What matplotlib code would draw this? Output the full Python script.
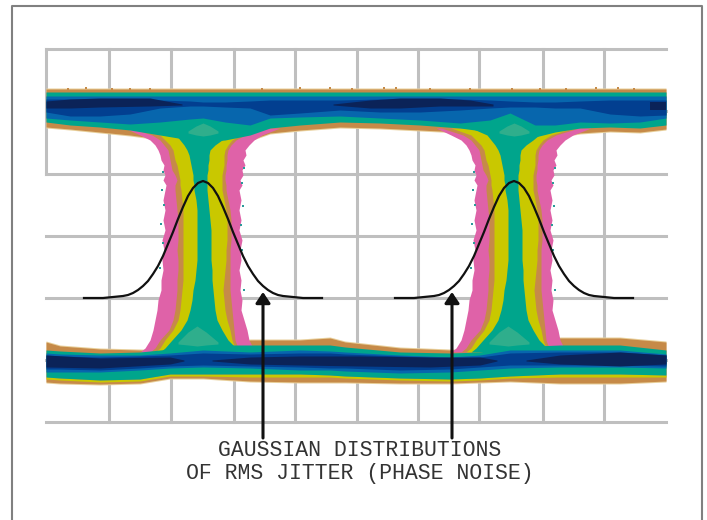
import matplotlib
matplotlib.use('Agg')
import matplotlib.pyplot as plt
import numpy as np

# everything in pixels
grid_x = [109, 171, 234, 295, 357, 418, 479, 543, 604]
grid_y = [49, 111, 174, 236, 298, 360, 422]

# top band
top_x = [46, 70, 100, 130, 160, 190, 203, 225, 250, 270, 300, 340, 380, 420, 460, 490, 510, 535, 555, 580, 610, 640, 666]
top_pale = [128, 130, 133, 136, 140, 145, 146, 145, 141, 134, 131, 128, 129, 131, 133, 137, 140, 142, 138, 134, 132, 133, 130]
top_tan = [127, 129, 132, 135, 139, 144, 145, 144, 140, 133, 130, 127, 128, 130, 132, 136, 139, 141, 137, 133, 131, 132, 129]
top_green = [122, 125, 127, 130, 135, 140, 142, 140, 135, 128, 125, 122, 123, 125, 128, 132, 136, 137, 132, 128, 127, 128, 125]
top_blue = [118, 120, 122, 124, 122, 119, 118, 122, 125, 118, 117, 116, 118, 120, 123, 120, 113, 125, 125, 122, 123, 122, 118]
top_dark_up = [99, 99, 99, 99, 100, 101, 102, 102, 101, 100, 100, 100, 99, 99, 99, 100, 101, 102, 102, 101, 100, 100, 100]
top_dark_low = [112, 116, 116, 114, 108, 106, 106, 107, 108, 115, 113, 110, 112, 112, 110, 108, 107, 107, 108, 108, 114, 116, 115]

navy_top_x = [[46, 70, 100, 150, 182], [333, 370, 400, 440, 470, 493], [650, 666]]
navy_top_up = [[101, 99, 98, 98, 104], [104, 100, 98, 98, 100, 104], [102, 102]]
navy_top_low = [[108, 108, 107, 106, 105], [105, 108, 108, 106, 106, 106], [110, 110]]

# bottom band
bot_x = [46, 60, 100, 140, 170, 203, 250, 300, 330, 345, 400, 450, 480, 510, 560, 620, 666]
bot_pale = [341, 345, 348, 349, 350, 350, 339, 339, 337, 341, 347, 349, 350, 347, 337, 337, 341]
bot_tan = [342, 346, 349, 350, 351, 351, 340, 340, 338, 342, 348, 350, 351, 348, 338, 338, 342]
bot_green = [350, 351, 353, 352, 349, 345, 345, 345, 345, 347, 352, 353, 352, 347, 345, 345, 350]
bot_blue = [353, 354, 355, 355, 353, 350, 352, 350, 351, 352, 355, 357, 355, 350, 350, 350, 354]
bot_dark = [355, 356, 357, 356, 355, 353, 354, 353, 353, 354, 356, 358, 357, 353, 352, 352, 355]
bot_dark_low = [369, 369, 370, 368, 366, 365, 366, 367, 368, 368, 370, 369, 367, 365, 365, 365, 366]
bot_blue_low = [372, 372, 372, 370, 368, 367, 368, 370, 370, 371, 373, 372, 370, 368, 367, 367, 368]
bot_green_low = [377, 378, 380, 379, 374, 374, 374, 374, 375, 376, 378, 379, 378, 376, 374, 374, 375]
bot_yellow_low = [379, 380, 382, 381, 376, 376, 377, 377, 377, 378, 380, 381, 380, 378, 377, 377, 377]
bot_tan_low = [382, 383, 384, 383, 378, 378, 381, 382, 382, 382, 383, 383, 382, 381, 383, 383, 381]
bot_pale_low = [383, 384, 385, 384, 379, 379, 382, 383, 383, 383, 384, 384, 383, 382, 384, 384, 382]

navy_bot_x = [[46, 100, 170, 184], [212, 250, 300, 360, 430, 480, 497], [526, 560, 620, 666]]
navy_bot_up = [[355, 358, 357, 360], [360, 357, 356, 356, 357, 357, 360], [360, 355, 352, 355]]
navy_bot_low = [[367, 368, 364, 361], [361, 364, 365, 366, 367, 365, 361], [361, 364, 366, 364]]

# eye crossing edges, left crossing
cross_y = [128, 135, 140, 145, 150, 155, 160, 165, 170, 175, 180, 185, 190, 200, 210, 220, 230, 240, 250, 260, 270, 280, 290, 300, 310, 320, 330, 340, 348, 352]
pink_l = [125, 140, 150, 155, 158, 160, 161, 164, 163, 165, 163, 166, 165, 163, 165, 163, 165, 162, 164, 162, 163, 161, 161, 158, 157, 155, 153, 150, 145, 140]
tan_l = [130, 152, 160, 164, 168, 169, 170, 171, 172, 175, 177, 175, 175, 176, 177, 178, 178, 178, 177, 178, 178, 177, 177, 176, 175, 173, 169, 160, 155, 150]
yellow_l = [140, 160, 165, 170, 173, 174, 175, 177, 178, 179, 180, 180, 181, 182, 183, 183, 183, 183, 183, 183, 183, 183, 182, 181, 180, 178, 173, 165, 160, 155]
teal_l = [160, 176, 180, 184, 187, 189, 190, 191, 192, 193, 193, 194, 194, 196, 197, 197, 197, 197, 197, 197, 196, 195, 193, 192, 190, 187, 181, 172, 165, 160]
teal_r = [240, 228, 222, 215, 210, 209, 209, 208, 208, 207, 207, 207, 207, 208, 209, 210, 211, 211, 211, 211, 212, 212, 213, 214, 215, 217, 222, 228, 236, 240]
yellow_r = [262, 240, 232, 228, 225, 224, 224, 224, 223, 222, 222, 222, 222, 224, 226, 227, 227, 227, 226, 226, 225, 224, 223, 224, 225, 227, 230, 232, 235, 240]
tan_r = [268, 245, 236, 231, 228, 227, 227, 226, 226, 225, 225, 226, 226, 228, 230, 231, 231, 231, 230, 230, 230, 230, 230, 231, 232, 233, 234, 235, 238, 243]
pink_r = [280, 262, 254, 249, 245, 246, 243, 245, 242, 243, 240, 242, 239, 241, 239, 241, 239, 242, 240, 241, 239, 241, 240, 242, 241, 244, 247, 249, 253, 258]
cross_shift = [0, 311]

# stray teal dots on the rough edge of the pink
speck_teal_x = [163, 162, 164, 161, 163, 160, 244, 242, 243, 241, 242, 244]
speck_teal_y = [172, 190, 205, 224, 243, 268, 168, 183, 206, 225, 250, 290]

# rough tan bumps along the top of the upper band
bump_x = [68, 86, 112, 130, 150, 262, 300, 330, 352, 384, 396, 430, 470, 512, 540, 566, 596, 618, 634]
bump_y = [89, 88, 89, 89, 89, 89, 88, 88, 89, 88, 88, 89, 89, 89, 89, 89, 88, 88, 89]

# pale green patches where the crossing meets each band
blob_top_x = [188, 196, 203, 210, 218]
blob_top_up = [131, 126, 123, 126, 131]
blob_top_low = [133, 135, 136, 135, 133]
blob_bot_x = [178, 188, 197, 206, 218]
blob_bot_up = [342, 332, 326, 332, 342]
blob_bot_low = [344, 345, 346, 345, 344]

# gaussian curve, every 5 px from the peak out
gauss_off = [0, 5, 10, 15, 20, 25, 30, 35, 40, 45, 50, 55, 60, 65, 70, 75, 80, 90, 100, 119]
gauss_y = [181, 183, 188, 196, 207, 219, 232, 244, 256, 266, 274, 281, 286, 290, 293, 295, 296, 297, 298, 298]
gauss_center = [203, 514]

arrow_x = [263, 452]
labels = ['GAUSSIAN DISTRIBUTIONS', 'OF RMS JITTER (PHASE NOISE)']
label_y = [451, 473]

PALE = '#e8cf9a'
TAN = '#c68a48'
YELLOW = '#c9c800'
TEAL = '#00a58c'
LIGHT = '#2fae8c'
BLUE = '#0766ad'
DARK = '#023f90'
NAVY = '#0b2358'
PINK = '#df62a8'
GRID = '#bfbfbf'

fig = plt.figure(figsize=(7.07, 5.2), dpi=100)
ax = fig.add_axes([0, 0, 1, 1])
ax.set_xlim(0, 707)
ax.set_ylim(520, 0)
ax.axis('off')

# frame, open at the bottom
ax.plot([12, 12, 702, 702], [520, 5.5, 5.5, 520], color='#808080', lw=1.5)

for g in grid_x:
    ax.plot([g, g], [49, 422], color=GRID, lw=2.2, zorder=0)
ax.plot([46, 46], [49, 174], color=GRID, lw=2.2, zorder=0)
for g in grid_y:
    ax.plot([46, 666], [g, g], color=GRID, lw=2.2, zorder=0)

# outer edges of the bands go under the crossing
ax.fill_between(top_x, 88, top_pale, color=PALE, lw=0)
ax.fill_between(top_x, 89, top_tan, color=TAN, lw=0)
ax.scatter(bump_x, bump_y, marker='s', s=4, color=TAN, lw=0, zorder=1)
ax.fill_between(bot_x, bot_pale, bot_pale_low, color=PALE, lw=0)
ax.fill_between(bot_x, bot_tan, bot_tan_low, color=TAN, lw=0)
ax.fill_between(bot_x, bot_green_low, bot_yellow_low, color=YELLOW, lw=0)

for s in cross_shift:
    ax.fill_betweenx(cross_y, np.array(pink_l) + s, np.array(pink_r) + s, color=PINK, lw=0)
    ax.scatter(np.array(speck_teal_x) + s, speck_teal_y, marker='s', s=3, color='#2a9a9a', lw=0, zorder=1)
    ax.fill_betweenx(cross_y, np.array(tan_l) + s, np.array(tan_r) + s, color=TAN, lw=0)
    ax.fill_betweenx(cross_y, np.array(yellow_l) + s, np.array(yellow_r) + s, color=YELLOW, lw=0)
    ax.fill_betweenx(cross_y, np.array(teal_l) + s, np.array(teal_r) + s, color=TEAL, lw=0)

ax.fill_between(top_x, 92, top_green, color=TEAL, lw=0)
ax.fill_between(top_x, 96, top_blue, color=BLUE, lw=0)
ax.fill_between(top_x, top_dark_up, top_dark_low, color=DARK, lw=0)
for xs, up, low in zip(navy_top_x, navy_top_up, navy_top_low):
    ax.fill_between(xs, up, low, color=NAVY, lw=0)

ax.fill_between(bot_x, bot_green, bot_green_low, color=TEAL, lw=0)
ax.fill_between(bot_x, bot_blue, bot_blue_low, color=BLUE, lw=0)
ax.fill_between(bot_x, bot_dark, bot_dark_low, color=DARK, lw=0)
for xs, up, low in zip(navy_bot_x, navy_bot_up, navy_bot_low):
    ax.fill_between(xs, up, low, color=NAVY, lw=0)

for s in cross_shift:
    ax.fill_between(np.array(blob_top_x) + s, blob_top_up, blob_top_low, color=LIGHT, lw=0)
    ax.fill_between(np.array(blob_bot_x) + s, blob_bot_up, blob_bot_low, color=LIGHT, lw=0)

for c in gauss_center:
    xs = [c - o for o in gauss_off[::-1]] + [c + o for o in gauss_off[1:]]
    ys = gauss_y[::-1] + gauss_y[1:]
    ax.plot(xs, ys, color='#111111', lw=1.6)

for a in arrow_x:
    ax.annotate('', xy=(a, 292), xytext=(a, 438),
                arrowprops=dict(arrowstyle='-|>,head_length=0.46,head_width=0.31', color='#111111',
                                lw=2.2, mutation_scale=14, shrinkA=0, shrinkB=0))

for t, y in zip(labels, label_y):
    ax.text(360, y, t, family='Liberation Mono', fontsize=15.5, color='#333333', ha='center', va='center')

plt.savefig('out.png', dpi=100)
